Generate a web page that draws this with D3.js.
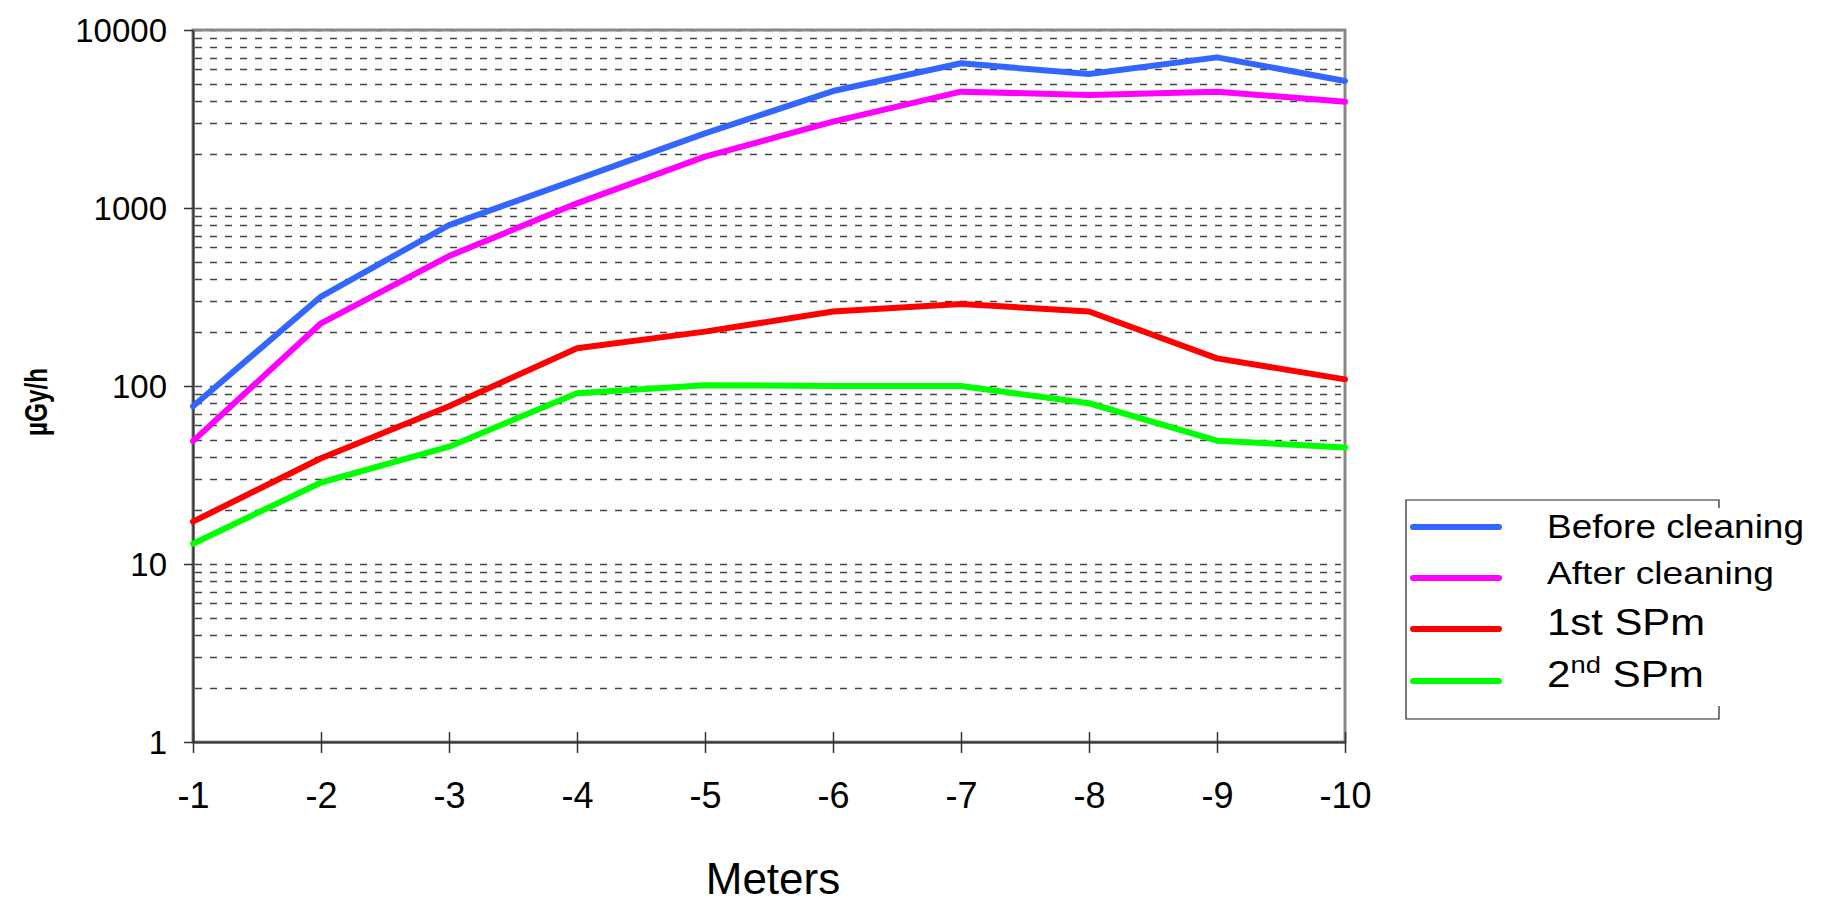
<!DOCTYPE html>
<html>
<head>
<meta charset="utf-8">
<script src="https://cdn.jsdelivr.net/npm/d3@7"></script>
<style>
  html, body { margin: 0; padding: 0; background: #fff; }
  svg { display: block; font-family: "Liberation Sans", Arial, Helvetica, sans-serif; }
</style>
</head>
<body>
<svg id="chart" width="1825" height="904"></svg>
<script>
// ---- data ----
const meters = [-1, -2, -3, -4, -5, -6, -7, -8, -9, -10];
const beforeCleaning = [77, 318, 802, 1449, 2627, 4540, 6500, 5660, 7020, 5170];
const afterCleaning  = [49, 225, 537, 1062, 1943, 3055, 4505, 4315, 4505, 3958];
const firstSPm       = [17.3, 39.3, 77, 163, 202, 262, 289, 262, 143, 109];
const secondSPm      = [13, 28.7, 45.6, 91, 101, 100, 100, 80, 49.3, 45.2];
const yTickValues = [1, 10, 100, 1000, 10000];
const seriesNames = ["Before cleaning", "After cleaning", "1st SPm", "2nd SPm"];
const seriesColors = ["#3366FF", "#FF00FF", "#FF0000", "#00FF00"];
const seriesData = [beforeCleaning, afterCleaning, firstSPm, secondSPm];

// ---- layout ----
const L = 193, R = 1345, T = 30, B = 742;
const svg = d3.select("#chart");

const x = d3.scaleLinear().domain([-1, -10]).range([L, R]);
const y = d3.scaleLog().domain([1, 10000]).range([B, T]);

// gridlines: every mantissa 1..9 in each decade
const gridVals = [];
for (let e = 0; e < 4; e++) for (let m = 1; m <= 9; m++) {
  const v = m * Math.pow(10, e);
  if (v > 1) gridVals.push(v);
}
gridVals.push(10000);
svg.append("g").selectAll("line").data(gridVals).join("line")
  .attr("x1", L + 2).attr("x2", R - 4)
  .attr("y1", d => Math.round(y(d)) + 0.5).attr("y2", d => Math.round(y(d)) + 0.5)
  .attr("stroke", "#444").attr("stroke-width", 1.3)
  .attr("stroke-dasharray", "7,8");

// plot frame (grey)
svg.append("rect")
  .attr("x", L).attr("y", T).attr("width", R - L).attr("height", B - T)
  .attr("fill", "none").attr("stroke", "#888").attr("stroke-width", 3);

// y axis
const yAxis = svg.append("g").attr("transform", `translate(${L},0)`)
  .call(d3.axisLeft(y).tickValues(yTickValues).tickSize(9).tickSizeOuter(0).tickFormat(d3.format("d")));
yAxis.select(".domain").attr("stroke", "#333").attr("stroke-width", 2);
yAxis.selectAll(".tick line").attr("stroke", "#333").attr("stroke-width", 1.5);
yAxis.selectAll(".tick text")
  .attr("x", -26).attr("dy", null).attr("y", 11)
  .attr("font-size", 33).attr("fill", "#000")
  .attr("font-family", "'Liberation Sans', Arial, sans-serif");

// x axis
const xAxis = svg.append("g").attr("transform", `translate(0,${B})`)
  .call(d3.axisBottom(x).tickValues(meters).tickSize(11).tickSizeOuter(0).tickFormat(d => d));
xAxis.select(".domain").attr("stroke", "#333").attr("stroke-width", 2);
xAxis.selectAll(".tick line").attr("y1", -10).attr("y2", 11).attr("stroke", "#333").attr("stroke-width", 1.5);
xAxis.selectAll(".tick text")
  .attr("y", 66).attr("dy", null)
  .attr("font-size", 36).attr("fill", "#000")
  .attr("font-family", "'Liberation Sans', Arial, sans-serif");

// series lines
const line = d3.line().x((d, i) => x(meters[i])).y(d => y(d));
svg.append("g").selectAll("path").data(seriesData).join("path")
  .attr("d", d => line(d))
  .attr("fill", "none")
  .attr("stroke", (d, i) => seriesColors[i])
  .attr("stroke-width", 6)
  .attr("stroke-linejoin", "round")
  .attr("stroke-linecap", "round");

// axis titles
svg.append("text")
  .attr("x", 773).attr("y", 894)
  .attr("text-anchor", "middle")
  .attr("font-size", 44)
  .attr("fill", "#000")
  .text("Meters");

svg.append("text")
  .attr("transform", "translate(47,402) rotate(-90)")
  .attr("text-anchor", "middle")
  .attr("font-size", 32)
  .attr("font-weight", "bold")
  .attr("textLength", 68)
  .attr("lengthAdjust", "spacingAndGlyphs")
  .attr("fill", "#000")
  .text("µGy/h");

// legend
const lg = svg.append("g");
const LX0 = 1406, LX1 = 1719, LY0 = 500, LY1 = 719;
lg.append("path")
  .attr("d", `M${LX1},${LY0 + 8} L${LX1},${LY0} L${LX0},${LY0} L${LX0},${LY1} L${LX1},${LY1} L${LX1},${LY1 - 13}`)
  .attr("fill", "none").attr("stroke", "#222").attr("stroke-width", 1.2);

const legendY = [527, 578, 629, 681];
const legendBase = [538, 584, 635, 687];
const legendSize = [33, 32, 37, 37];
const legendLen = [257, 227, 158, 157];
seriesNames.forEach((name, i) => {
  lg.append("line")
    .attr("x1", 1413).attr("x2", 1499)
    .attr("y1", legendY[i]).attr("y2", legendY[i])
    .attr("stroke", seriesColors[i]).attr("stroke-width", 6)
    .attr("stroke-linecap", "round");
  const t = lg.append("text")
    .attr("x", 1547).attr("y", legendBase[i])
    .attr("font-size", legendSize[i])
    .attr("fill", "#000")
    .attr("textLength", legendLen[i])
    .attr("lengthAdjust", "spacingAndGlyphs");
  if (name === "2nd SPm") {
    t.append("tspan").text("2");
    t.append("tspan").attr("font-size", 24).attr("dy", -14).text("nd");
    t.append("tspan").attr("dy", 14).text(" SPm");
  } else {
    t.text(name);
  }
});
</script>
</body>
</html>
